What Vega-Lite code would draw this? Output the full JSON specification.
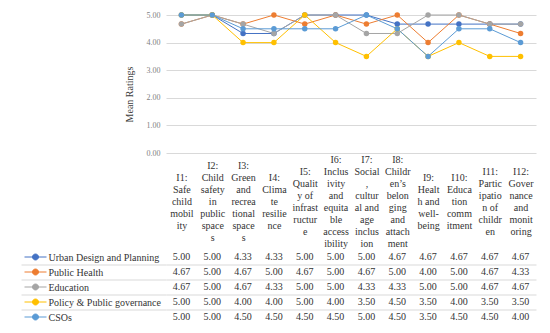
{
  "$schema": "https://vega.github.io/schema/vega-lite/v6.json",
  "padding": {"left": 20, "top": 11, "right": 12, "bottom": 5},
  "background": "white",
  "config": {
    "view": {"stroke": null},
    "font": "Liberation Serif",
    "text": {"font": "Liberation Serif"},
    "axis": {"labelFont": "Liberation Serif", "titleFont": "Liberation Serif"}
  },
  "datasets": {
    "indicators": [
      {"code": "I1", "label": "I1:\nSafe\nchild\nmobil\nity"},
      {"code": "I2", "label": "I2:\nChild\nsafety\nin\npublic\nspace\ns"},
      {"code": "I3", "label": "I3:\nGreen\nand\nrecrea\ntional\nspace\ns"},
      {"code": "I4", "label": "I4:\nClima\nte\nresilie\nnce"},
      {"code": "I5", "label": "I5:\nQualit\ny of\ninfrast\nructur\ne"},
      {"code": "I6", "label": "I6:\nInclus\nivity\nand\nequita\nble\naccess\nibility"},
      {"code": "I7", "label": "I7:\nSocial\n,\ncultur\nal and\nage\ninclus\nion"},
      {"code": "I8", "label": "I8:\nChildr\nen’s\nbelon\nging\nand\nattach\nment"},
      {"code": "I9", "label": "I9:\nHealt\nh and\nwell-\nbeing"},
      {"code": "I10", "label": "I10:\nEduca\ntion\ncomm\nitment"},
      {"code": "I11", "label": "I11:\nPartic\nipatio\nn of\nchildr\nen"},
      {"code": "I12", "label": "I12:\nGover\nnance\nand\nmonit\noring"}
    ],
    "groups": [
      {"series": "Urban Design and Planning"},
      {"series": "Public Health"},
      {"series": "Education"},
      {"series": "Policy & Public governance"},
      {"series": "CSOs"}
    ],
    "ratings": [
      {"series": "Urban Design and Planning", "code": "I1", "value": 5.00},
      {"series": "Urban Design and Planning", "code": "I2", "value": 5.00},
      {"series": "Urban Design and Planning", "code": "I3", "value": 4.33},
      {"series": "Urban Design and Planning", "code": "I4", "value": 4.33},
      {"series": "Urban Design and Planning", "code": "I5", "value": 5.00},
      {"series": "Urban Design and Planning", "code": "I6", "value": 5.00},
      {"series": "Urban Design and Planning", "code": "I7", "value": 5.00},
      {"series": "Urban Design and Planning", "code": "I8", "value": 4.67},
      {"series": "Urban Design and Planning", "code": "I9", "value": 4.67},
      {"series": "Urban Design and Planning", "code": "I10", "value": 4.67},
      {"series": "Urban Design and Planning", "code": "I11", "value": 4.67},
      {"series": "Urban Design and Planning", "code": "I12", "value": 4.67},
      {"series": "Public Health", "code": "I1", "value": 4.67},
      {"series": "Public Health", "code": "I2", "value": 5.00},
      {"series": "Public Health", "code": "I3", "value": 4.67},
      {"series": "Public Health", "code": "I4", "value": 5.00},
      {"series": "Public Health", "code": "I5", "value": 4.67},
      {"series": "Public Health", "code": "I6", "value": 5.00},
      {"series": "Public Health", "code": "I7", "value": 4.67},
      {"series": "Public Health", "code": "I8", "value": 5.00},
      {"series": "Public Health", "code": "I9", "value": 4.00},
      {"series": "Public Health", "code": "I10", "value": 5.00},
      {"series": "Public Health", "code": "I11", "value": 4.67},
      {"series": "Public Health", "code": "I12", "value": 4.33},
      {"series": "Education", "code": "I1", "value": 4.67},
      {"series": "Education", "code": "I2", "value": 5.00},
      {"series": "Education", "code": "I3", "value": 4.67},
      {"series": "Education", "code": "I4", "value": 4.33},
      {"series": "Education", "code": "I5", "value": 5.00},
      {"series": "Education", "code": "I6", "value": 5.00},
      {"series": "Education", "code": "I7", "value": 4.33},
      {"series": "Education", "code": "I8", "value": 4.33},
      {"series": "Education", "code": "I9", "value": 5.00},
      {"series": "Education", "code": "I10", "value": 5.00},
      {"series": "Education", "code": "I11", "value": 4.67},
      {"series": "Education", "code": "I12", "value": 4.67},
      {"series": "Policy & Public governance", "code": "I1", "value": 5.00},
      {"series": "Policy & Public governance", "code": "I2", "value": 5.00},
      {"series": "Policy & Public governance", "code": "I3", "value": 4.00},
      {"series": "Policy & Public governance", "code": "I4", "value": 4.00},
      {"series": "Policy & Public governance", "code": "I5", "value": 5.00},
      {"series": "Policy & Public governance", "code": "I6", "value": 4.00},
      {"series": "Policy & Public governance", "code": "I7", "value": 3.50},
      {"series": "Policy & Public governance", "code": "I8", "value": 4.50},
      {"series": "Policy & Public governance", "code": "I9", "value": 3.50},
      {"series": "Policy & Public governance", "code": "I10", "value": 4.00},
      {"series": "Policy & Public governance", "code": "I11", "value": 3.50},
      {"series": "Policy & Public governance", "code": "I12", "value": 3.50},
      {"series": "CSOs", "code": "I1", "value": 5.00},
      {"series": "CSOs", "code": "I2", "value": 5.00},
      {"series": "CSOs", "code": "I3", "value": 4.50},
      {"series": "CSOs", "code": "I4", "value": 4.50},
      {"series": "CSOs", "code": "I5", "value": 4.50},
      {"series": "CSOs", "code": "I6", "value": 4.50},
      {"series": "CSOs", "code": "I7", "value": 5.00},
      {"series": "CSOs", "code": "I8", "value": 4.50},
      {"series": "CSOs", "code": "I9", "value": 3.50},
      {"series": "CSOs", "code": "I10", "value": 4.50},
      {"series": "CSOs", "code": "I11", "value": 4.50},
      {"series": "CSOs", "code": "I12", "value": 4.00}
    ]
  },
  "columns": 2,
  "bounds": "flush",
  "spacing": {"row": 96.5, "column": 119},
  "concat": [
    {
      "width": 23,
      "height": 138,
      "data": {"values": [{}]},
      "mark": {"type": "text", "text": ""}
    },
    {
      "width": 370,
      "height": 138,
      "data": {"name": "ratings"},
      "transform": [
        {"lookup": "code", "from": {"data": {"name": "indicators"}, "key": "code", "fields": ["label"]}}
      ],
      "encoding": {
        "x": {
          "field": "label", "type": "nominal", "sort": null,
          "scale": {"type": "point", "padding": 0.5},
          "axis": {
            "title": null, "labelAngle": 0,
            "labelExpr": "split(datum.label, '\\n')",
            "labelBaseline": "middle", "labelLineHeight": 11.9,
            "labelPadding": {
              "condition": [
                {"test": "length(split(datum.value, '\\n')) == 8", "value": 6.85},
                {"test": "length(split(datum.value, '\\n')) == 7", "value": 12.8},
                {"test": "length(split(datum.value, '\\n')) == 6", "value": 18.75}
              ],
              "value": 24.7
            },
            "labelFont": "Liberation Serif",
            "labelFontSize": 10, "labelColor": "#333333", "labelOverlap": false, "labelLimit": 0,
            "ticks": false, "tickSize": 0, "domain": false, "grid": false
          }
        },
        "y": {
          "field": "value", "type": "quantitative",
          "scale": {"domain": [0, 5], "nice": false},
          "axis": {
            "title": "Mean Ratings", "titleFontSize": 10, "titleFontWeight": "normal",
            "titleFont": "Liberation Serif",
            "titleColor": "#404040", "titlePadding": 12, "titleY": 79,
            "values": [0, 1, 2, 3, 4, 5], "format": ".2f",
            "labelFont": "Liberation Serif",
            "labelFontSize": 8, "labelColor": "#7f7f7f", "labelPadding": 6,
            "ticks": false, "tickSize": 0, "domain": false,
            "grid": true, "gridColor": "#d9d9d9", "gridWidth": 1
          }
        },
        "color": {
          "field": "series", "type": "nominal",
          "scale": {
            "domain": ["Urban Design and Planning", "Public Health", "Education", "Policy & Public governance", "CSOs"],
            "range": ["#4472c4", "#ed7d31", "#a5a5a5", "#ffc000", "#5b9bd5"]
          },
          "legend": null
        }
      },
      "layer": [
        {"mark": {"type": "line", "strokeWidth": 1}},
        {"mark": {"type": "point", "filled": true, "size": 30, "opacity": 1}}
      ]
    },
    {
      "width": 23,
      "height": 75,
      "data": {"name": "groups"},
      "mark": {
        "type": "point",
        "shape": "M-1,0H1M0.27,0A0.27,0.27,0,1,1,-0.27,0A0.27,0.27,0,1,1,0.27,0Z",
        "size": 484, "filled": true, "strokeWidth": 1, "opacity": 1
      },
      "encoding": {
        "y": {
          "field": "series", "type": "nominal",
          "scale": {
            "type": "point", "padding": 0.5,
            "domain": ["Urban Design and Planning", "Public Health", "Education", "Policy & Public governance", "CSOs"]
          },
          "axis": {
            "orient": "right", "title": null, "ticks": false, "tickSize": 0, "domain": false,
            "labelPadding": 1, "labelAlign": "left", "labelFontSize": 10,
            "labelFont": "Liberation Serif",
            "labelColor": "#333333", "labelLimit": 0
          }
        },
        "color": {
          "field": "series", "type": "nominal",
          "scale": {
            "domain": ["Urban Design and Planning", "Public Health", "Education", "Policy & Public governance", "CSOs"],
            "range": ["#4472c4", "#ed7d31", "#a5a5a5", "#ffc000", "#5b9bd5"]
          },
          "legend": null
        },
        "stroke": {
          "field": "series", "type": "nominal",
          "scale": {
            "domain": ["Urban Design and Planning", "Public Health", "Education", "Policy & Public governance", "CSOs"],
            "range": ["#4472c4", "#ed7d31", "#a5a5a5", "#ffc000", "#5b9bd5"]
          },
          "legend": null
        }
      }
    },
    {
      "width": 370,
      "height": 75,
      "data": {"name": "ratings"},
      "mark": {"type": "text", "fontSize": 10, "font": "Liberation Serif", "color": "#333333"},
      "encoding": {
        "x": {
          "field": "code", "type": "nominal", "sort": null,
          "scale": {"type": "point", "padding": 0.5},
          "axis": null
        },
        "y": {
          "field": "series", "type": "nominal",
          "scale": {
            "type": "band", "paddingInner": 0, "paddingOuter": 0,
            "domain": ["Urban Design and Planning", "Public Health", "Education", "Policy & Public governance", "CSOs"]
          },
          "axis": {
            "title": null, "labels": false, "domain": false,
            "ticks": true, "tickSize": 145, "tickColor": "#d9d9d9", "tickWidth": 1,
            "grid": true, "gridColor": "#d9d9d9", "gridWidth": 1,
            "bandPosition": 1,
            "values": ["Urban Design and Planning", "Public Health", "Education", "Policy & Public governance"]
          }
        },
        "text": {"field": "value", "type": "quantitative", "format": ".2f"}
      }
    }
  ]
}
